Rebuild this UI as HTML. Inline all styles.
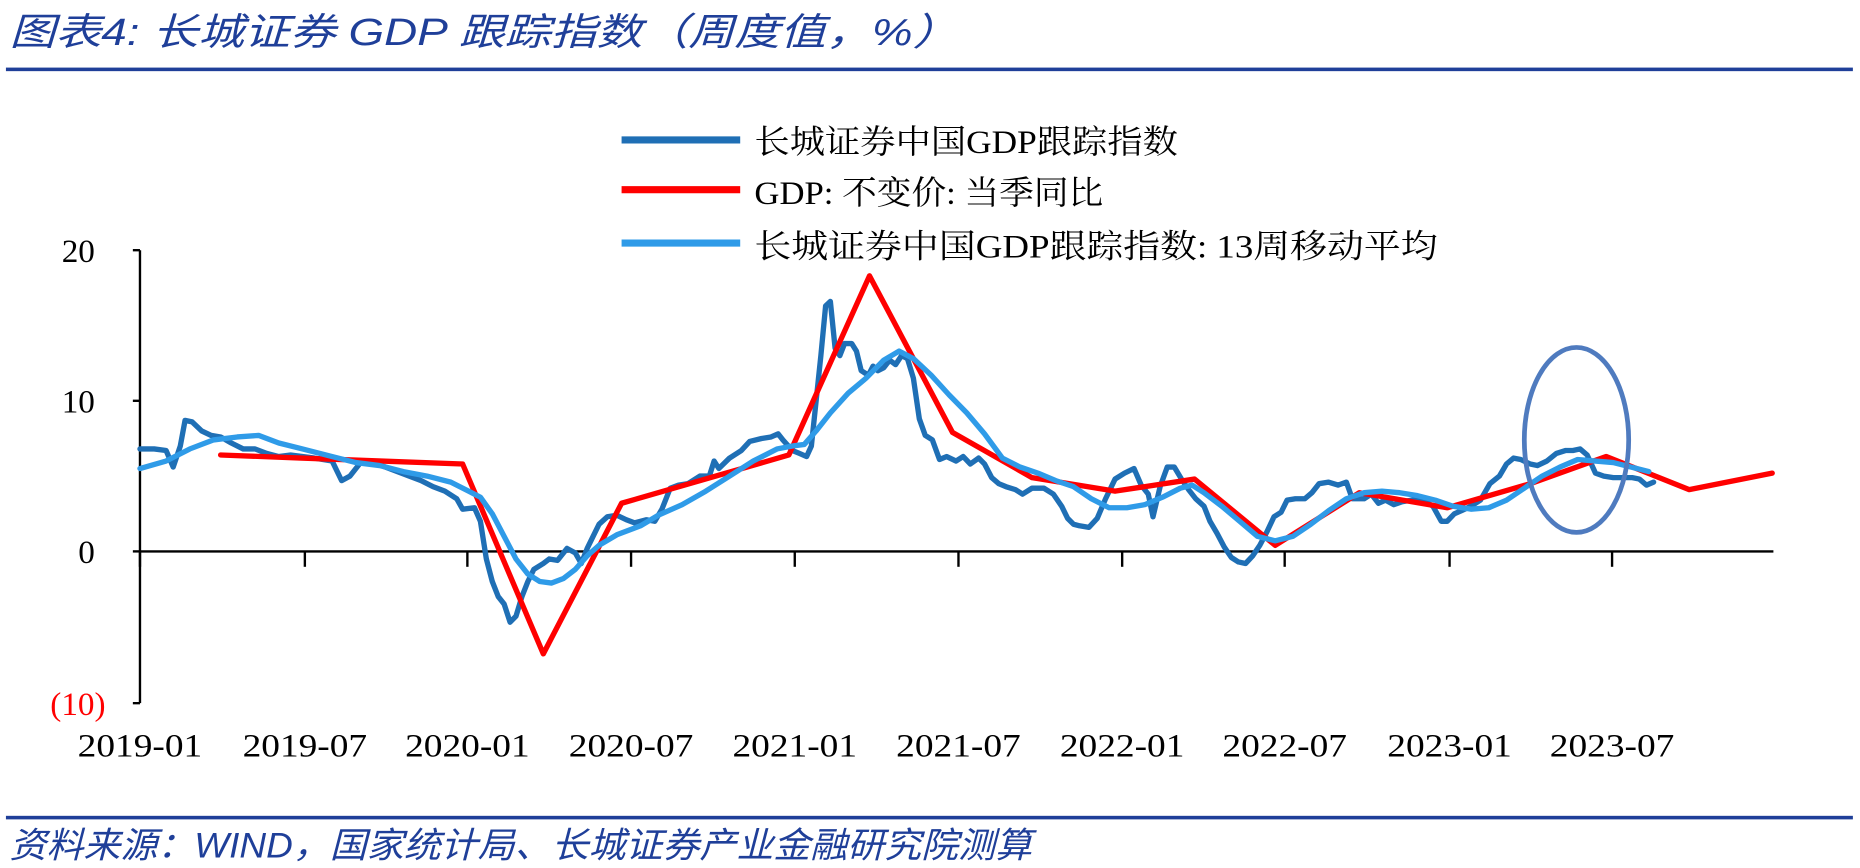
<!DOCTYPE html>
<html><head><meta charset="utf-8"><style>
html,body{margin:0;padding:0;background:#fff;width:1860px;height:868px;overflow:hidden}
svg{display:block}
.s{font-family:"Liberation Serif","Noto Serif CJK SC",serif}
.t{font-family:"Liberation Sans","Noto Sans CJK SC",sans-serif;font-style:italic}
</style></head><body>
<svg id="c" width="1860" height="868" viewBox="0 0 1568 732" preserveAspectRatio="none" xmlns="http://www.w3.org/2000/svg">
<text x="8" y="38" class="t" font-size="32" fill="#1f3f99" textLength="800" lengthAdjust="spacingAndGlyphs">图表4:  长城证券 GDP 跟踪指数（周度值，%）</text>
<rect x="5" y="57" width="1557" height="3" fill="#1f3f99"/>
<rect x="5" y="688" width="1557" height="3" fill="#1f3f99"/>
<text x="8" y="723" class="t" font-size="30" fill="#1f3f99" textLength="862" lengthAdjust="spacingAndGlyphs">资料来源：WIND，国家统计局、长城证券产业金融研究院测算</text>
<g stroke="#000" stroke-width="2">
<line x1="118" y1="211" x2="118" y2="593"/>
<line x1="118" y1="465" x2="1495" y2="465"/>
<line x1="112" y1="211" x2="118" y2="211"/>
<line x1="112" y1="338" x2="118" y2="338"/>
<line x1="112" y1="465" x2="118" y2="465"/>
<line x1="112" y1="593" x2="118" y2="593"/>
</g>
<g id="xt" stroke="#000" stroke-width="2"></g>
<g class="s" font-size="28">
<text x="80" y="221" text-anchor="end">20</text>
<text x="80" y="348" text-anchor="end">10</text>
<text x="80" y="475" text-anchor="end">0</text>
<text x="89" y="603" text-anchor="end" fill="#ff0000">(10)</text>
</g>
<g id="xl" class="s" font-size="28" text-anchor="middle"></g>
<g class="s" font-size="28">
<line x1="524" y1="118" x2="624" y2="118" stroke="#1f6fb5" stroke-width="6"/>
<line x1="524" y1="160" x2="624" y2="160" stroke="#ff0000" stroke-width="6"/>
<line x1="524" y1="205" x2="624" y2="205" stroke="#2f9be8" stroke-width="6"/>
<text x="636" y="129" textLength="357" lengthAdjust="spacingAndGlyphs">长城证券中国GDP跟踪指数</text>
<text x="636" y="172" textLength="294" lengthAdjust="spacingAndGlyphs">GDP: 不变价: 当季同比</text>
<text x="636" y="217" textLength="576" lengthAdjust="spacingAndGlyphs">长城证券中国GDP跟踪指数: 13周移动平均</text>
</g>
<g id="series" fill="none" stroke-linejoin="round" stroke-linecap="round"></g>
<ellipse cx="1329" cy="371" rx="44" ry="78" fill="none" stroke="#4f7bbf" stroke-width="4"/>
</svg>
<script>
var NS="http://www.w3.org/2000/svg";
function Y(v){return 465-v*12.7;}
var labs=["2019-01","2019-07","2020-01","2020-07","2021-01","2021-07","2022-01","2022-07","2023-01","2023-07"];
var xs=[118,257,394,532,670,808,946,1083,1222,1359];
var xt=document.getElementById("xt"),xl=document.getElementById("xl");
xs.forEach(function(x,i){var l=document.createElementNS(NS,"line");l.setAttribute("x1",x);l.setAttribute("x2",x);l.setAttribute("y1",465);l.setAttribute("y2",478);xt.appendChild(l);
var t=document.createElementNS(NS,"text");t.setAttribute("x",x);t.setAttribute("y",638);t.setAttribute("textLength",105);t.setAttribute("lengthAdjust","spacingAndGlyphs");t.textContent=labs[i];xl.appendChild(t);});
var dark=[118,6.8,130,6.8,140,6.7,146,5.6,152,7.0,156,8.7,162,8.6,170,8.0,178,7.7,186,7.6,195,7.2,205,6.8,215,6.8,225,6.5,235,6.3,245,6.4,255,6.3,265,6.2,280,6.0,288,4.7,295,5.0,305,6.0,315,5.9,325,5.6,335,5.3,345,5.0,355,4.7,365,4.3,375,4.0,385,3.5,390,2.8,400,2.9,405,2.0,410,-0.5,415,-2.0,420,-3.0,425,-3.5,430,-4.7,435,-4.3,440,-3.0,445,-2.0,450,-1.2,458,-0.8,463,-0.5,470,-0.6,478,0.2,485,-0.1,490,-0.8,495,0.2,500,1.0,505,1.8,512,2.3,520,2.4,528,2.1,535,1.9,545,2.1,552,2.0,558,2.8,565,4.2,572,4.4,580,4.5,590,5.0,598,5.0,602,6.0,606,5.5,615,6.2,625,6.7,632,7.3,642,7.5,650,7.6,656,7.8,660,7.4,668,6.7,674,6.5,680,6.3,684,7.0,688,10.0,692,13.0,696,16.3,700,16.6,704,13.5,708,13.0,712,13.8,718,13.8,722,13.3,726,12.0,732,11.7,736,12.3,740,12.0,745,12.2,750,12.7,755,12.4,760,13.0,765,12.8,770,11.5,775,8.8,780,7.7,786,7.4,792,6.1,798,6.3,806,6.0,812,6.3,818,5.8,825,6.2,830,5.8,836,4.9,842,4.5,848,4.3,856,4.1,862,3.8,870,4.2,880,4.2,888,3.8,895,3.0,900,2.2,905,1.8,910,1.7,918,1.6,925,2.2,932,3.5,940,4.8,948,5.2,956,5.5,962,4.4,968,3.8,972,2.3,978,4.3,984,5.6,990,5.6,996,4.8,1002,4.1,1008,3.5,1015,3.0,1020,2.0,1026,1.2,1032,0.3,1038,-0.4,1044,-0.7,1050,-0.8,1056,-0.3,1062,0.4,1068,1.3,1074,2.3,1080,2.6,1085,3.4,1092,3.5,1100,3.5,1106,3.9,1112,4.5,1120,4.6,1128,4.4,1135,4.6,1140,3.5,1150,3.5,1156,3.8,1162,3.2,1168,3.4,1175,3.1,1182,3.3,1190,3.4,1200,3.4,1208,3.0,1215,2.0,1220,2.0,1226,2.5,1232,2.7,1240,3.0,1248,3.4,1256,4.5,1264,5.0,1270,5.8,1276,6.2,1282,6.1,1290,5.8,1296,5.7,1304,6.0,1312,6.5,1320,6.7,1326,6.7,1332,6.8,1338,6.4,1345,5.2,1352,5.0,1360,4.9,1368,4.9,1376,4.9,1382,4.8,1388,4.4,1394,4.6];
var red=[186,6.4,254,6.2,322,6.0,390,5.8,458,-6.8,524,3.2,665,6.4,733,18.3,803,7.9,870,4.9,940,4.0,1007,4.8,1075,0.4,1146,3.9,1220,2.9,1290,4.5,1354,6.3,1424,4.1,1494,5.2];
var ma=[118,5.5,140,6.0,160,6.8,180,7.4,200,7.6,218,7.7,235,7.2,255,6.8,280,6.3,300,5.9,320,5.7,340,5.3,360,5.0,380,4.6,395,4.0,405,3.6,415,2.5,425,1.0,435,-0.5,445,-1.5,455,-2.0,465,-2.1,475,-1.8,485,-1.2,495,-0.3,505,0.4,520,1.1,540,1.7,555,2.4,575,3.1,595,4.0,615,5.0,635,6.0,655,6.8,668,7.0,678,7.1,688,8.0,700,9.2,715,10.5,730,11.5,745,12.7,758,13.3,770,12.8,785,11.7,800,10.4,815,9.2,830,7.8,845,6.2,860,5.6,875,5.2,890,4.7,905,4.3,920,3.5,935,2.9,950,2.9,965,3.1,980,3.6,995,4.2,1005,4.4,1015,3.9,1030,3.0,1045,2.0,1060,1.0,1075,0.7,1090,1.0,1105,1.8,1120,2.7,1135,3.5,1150,3.9,1165,4.0,1180,3.9,1195,3.7,1210,3.4,1225,3.0,1240,2.8,1255,2.9,1270,3.4,1285,4.2,1300,5.0,1315,5.6,1330,6.1,1345,6.0,1360,5.9,1375,5.6,1390,5.3];
var g=document.getElementById("series");
function add(d,c,w){var p=[];for(var i=0;i<d.length;i+=2)p.push(d[i]+","+Y(d[i+1]).toFixed(1));var e=document.createElementNS(NS,"polyline");e.setAttribute("points",p.join(" "));e.setAttribute("stroke",c);e.setAttribute("stroke-width",w);g.appendChild(e);}
add(dark,"#1f6fb5",4.5);add(red,"#ff0000",4.5);add(ma,"#2f9be8",4.5);
</script>
</body></html>
